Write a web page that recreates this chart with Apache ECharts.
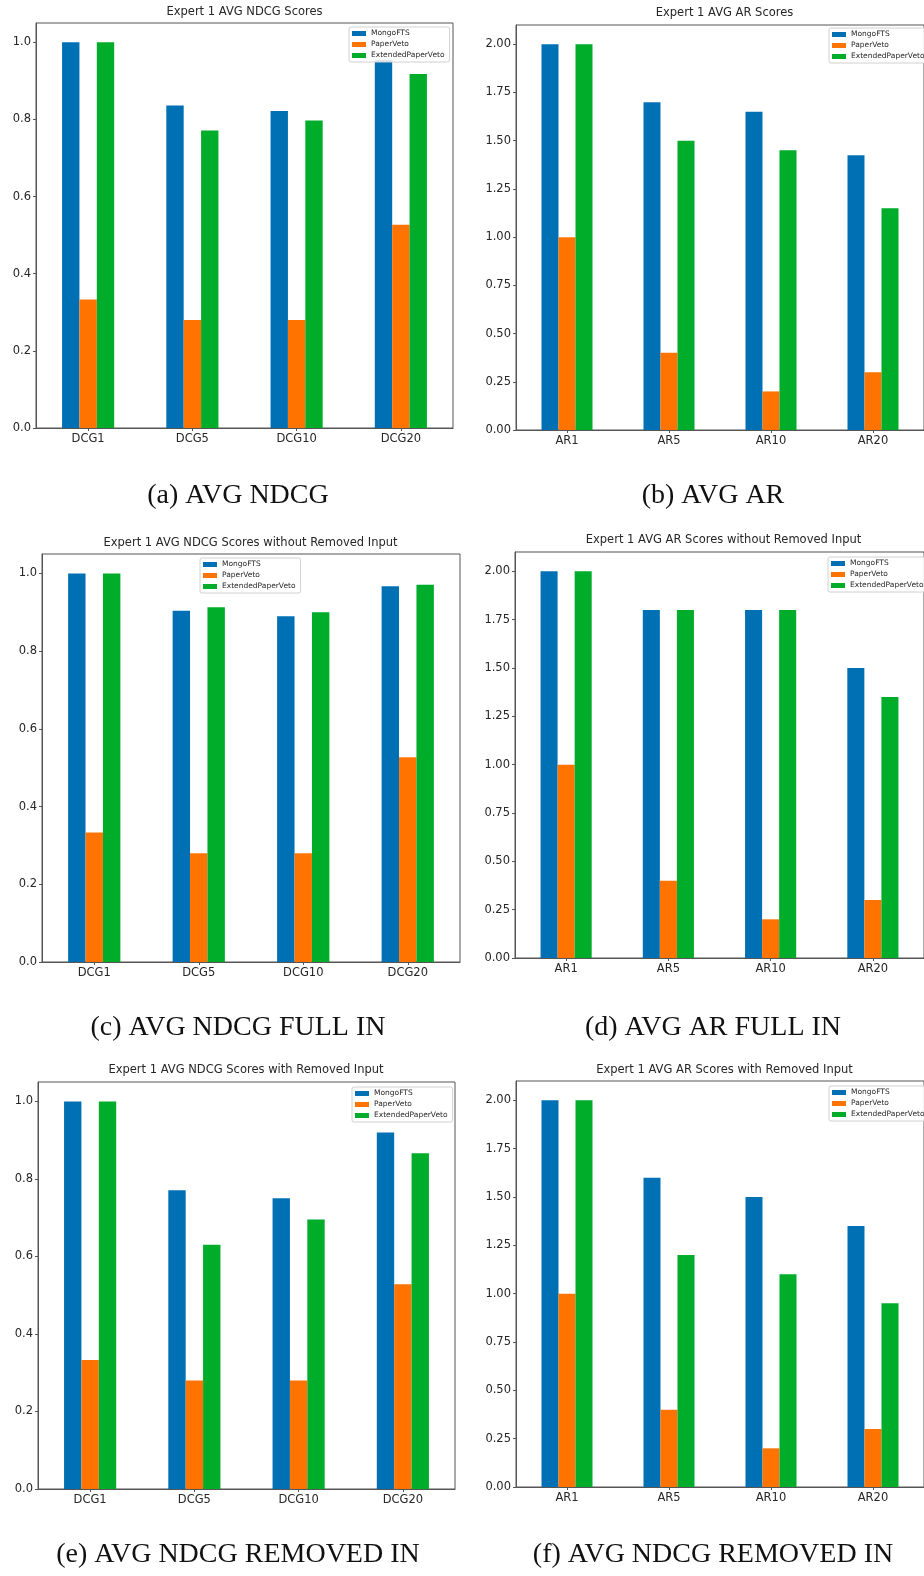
<!DOCTYPE html>
<html><head><meta charset="utf-8">
<script src="https://cdn.jsdelivr.net/npm/echarts@6/dist/echarts.min.js"></script>
<style>html,body{margin:0;padding:0;background:#fff}#c{width:924px;height:1576px}</style>
</head><body><div id="c"></div>
<script>
// ---------- data ----------
const seriesNames = ['MongoFTS', 'PaperVeto', 'ExtendedPaperVeto'];
const ndcgCats = ['DCG1', 'DCG5', 'DCG10', 'DCG20'];
const arCats = ['AR1', 'AR5', 'AR10', 'AR20'];
const ndcgTicks = [0, 0.2, 0.4, 0.6, 0.8, 1.0];
const arTicks = [0, 0.25, 0.5, 0.75, 1.0, 1.25, 1.5, 1.75, 2.0];

// (a) AVG NDCG
const aMongo = [1.0, 0.836, 0.822, 0.955];
const aPaper = [0.333, 0.28, 0.28, 0.527];
const aExt   = [1.0, 0.771, 0.797, 0.918];
// (b) AVG AR
const bMongo = [2.0, 1.7, 1.65, 1.425];
const bPaper = [1.0, 0.4, 0.2, 0.3];
const bExt   = [2.0, 1.5, 1.45, 1.15];
// (c) AVG NDCG FULL IN
const cMongo = [1.0, 0.904, 0.890, 0.967];
const cPaper = [0.333, 0.28, 0.28, 0.527];
const cExt   = [1.0, 0.913, 0.900, 0.971];
// (d) AVG AR FULL IN
const dMongo = [2.0, 1.8, 1.8, 1.5];
const dPaper = [1.0, 0.4, 0.2, 0.3];
const dExt   = [2.0, 1.8, 1.8, 1.35];
// (e) AVG NDCG REMOVED IN
const eMongo = [1.0, 0.771, 0.75, 0.92];
const ePaper = [0.333, 0.28, 0.28, 0.528];
const eExt   = [1.0, 0.63, 0.695, 0.866];
// (f) AVG AR REMOVED IN
const fMongo = [2.0, 1.6, 1.5, 1.35];
const fPaper = [1.0, 0.4, 0.2, 0.3];
const fExt   = [2.0, 1.2, 1.1, 0.95];

const titles = [
  'Expert 1 AVG NDCG Scores',
  'Expert 1 AVG AR Scores',
  'Expert 1 AVG NDCG Scores without Removed Input',
  'Expert 1 AVG AR Scores without Removed Input',
  'Expert 1 AVG NDCG Scores with Removed Input',
  'Expert 1 AVG AR Scores with Removed Input'
];
const captions = [
  '(a) AVG NDCG', '(b) AVG AR',
  '(c) AVG NDCG FULL IN', '(d) AVG AR FULL IN',
  '(e) AVG NDCG REMOVED IN', '(f) AVG NDCG REMOVED IN'
];

// ---------- layout / style ----------
const colors = ['#0070b5', '#ff7300', '#00ad2b'];
const sans = 'DejaVu Sans';
const txt = '#262626';
const frame = '#555555';

const panels = [
  {cats: ndcgCats, ticks: ndcgTicks, max: 1.05, dec: 1, vals: [aMongo, aPaper, aExt],
   left: 36, top: 23, width: 417, height: 405, lg: [349, 27], tt: [244.5, 12], cap: [238, 496]},
  {cats: arCats, ticks: arTicks, max: 2.1, dec: 2, vals: [bMongo, bPaper, bExt],
   left: 516, top: 25, width: 418, height: 405, lg: [829, 28], tt: [724.5, 13], cap: [713, 496]},
  {cats: ndcgCats, ticks: ndcgTicks, max: 1.05, dec: 1, vals: [cMongo, cPaper, cExt],
   left: 42, top: 554, width: 418, height: 408, lg: [200, 558], tt: [250.5, 543], cap: [238, 1028]},
  {cats: arCats, ticks: arTicks, max: 2.1, dec: 2, vals: [dMongo, dPaper, dExt],
   left: 515, top: 552, width: 418, height: 406, lg: [828, 557], tt: [723.5, 540], cap: [713, 1028]},
  {cats: ndcgCats, ticks: ndcgTicks, max: 1.05, dec: 1, vals: [eMongo, ePaper, eExt],
   left: 38, top: 1082, width: 417, height: 407, lg: [352, 1087], tt: [246, 1070], cap: [238, 1555]},
  {cats: arCats, ticks: arTicks, max: 2.1, dec: 2, vals: [fMongo, fPaper, fExt],
   left: 516, top: 1081, width: 418, height: 406, lg: [829, 1086], tt: [724.5, 1070], cap: [713, 1555]}
];

const grid = [], xAxis = [], yAxis = [], series = [], legend = [], graphic = [];
panels.forEach((p, i) => {
  grid.push({left: p.left, top: p.top, width: p.width, height: p.height,
    show: true, borderColor: frame, borderWidth: 1, backgroundColor: 'transparent', containLabel: false});
  xAxis.push({type: 'category', gridIndex: i, data: p.cats,
    axisLine: {show: true, lineStyle: {color: frame, width: 1}},
    axisTick: {show: true, alignWithLabel: true, length: 3, lineStyle: {color: frame}},
    axisLabel: {color: txt, fontFamily: sans, fontSize: 11.5, margin: 5},
    splitLine: {show: false}});
  yAxis.push({type: 'value', gridIndex: i, min: 0, max: p.max,
    interval: p.ticks[1] - p.ticks[0],
    axisLine: {show: true, lineStyle: {color: frame, width: 1}},
    axisTick: {show: true, length: 3, lineStyle: {color: frame}, customValues: p.ticks},
    axisLabel: {color: txt, fontFamily: sans, fontSize: 11.5, margin: 5,
      customValues: p.ticks,
      formatter: v => (p.ticks.some(t => Math.abs(t - v) < 1e-9) ? v.toFixed(p.dec) : '')},
    splitLine: {show: false}});
  seriesNames.forEach((n, k) => {
    series.push({type: 'bar', name: n, xAxisIndex: i, yAxisIndex: i, data: p.vals[k],
      barWidth: '16.667%', barGap: '0%', itemStyle: {color: colors[k]},
      emphasis: {disabled: true}, animation: false});
  });
  legend.push({data: seriesNames, orient: 'vertical', left: p.lg[0], top: p.lg[1],
    icon: 'rect', itemWidth: 14, itemHeight: 5, itemGap: 2, padding: [2, 5, 2, 3],
    borderColor: '#d0d0d0', borderWidth: 1, borderRadius: 2,
    backgroundColor: 'rgba(255,255,255,0.85)', selectedMode: false,
    textStyle: {fontSize: 7.5, fontFamily: sans, color: txt, lineHeight: 9}});
  graphic.push({type: 'text', x: p.tt[0], y: p.tt[1], z: 10,
    style: {text: titles[i], fill: txt, font: '11.5px "DejaVu Sans"', align: 'center', verticalAlign: 'middle'}});
  graphic.push({type: 'text', x: p.cap[0], y: p.cap[1], z: 10,
    style: {text: captions[i], fill: '#111', font: '28px "Liberation Serif"', align: 'center', verticalAlign: 'middle'}});
});

const chart = echarts.init(document.getElementById('c'), null, {renderer: 'canvas', width: 924, height: 1576});
chart.setOption({animation: false, backgroundColor: '#fff', grid, xAxis, yAxis, series, legend, graphic});
</script>
</body></html>
